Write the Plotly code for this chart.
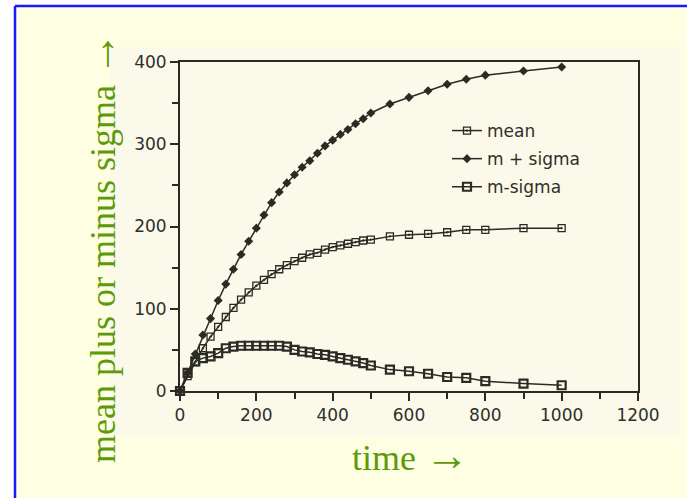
import plotly.graph_objects as go

# ---- data ----
time = [0, 20, 40, 60, 80, 100, 120, 140, 160, 180, 200, 220, 240, 260, 280, 300,
        320, 340, 360, 380, 400, 420, 440, 460, 480, 500, 550, 600, 650, 700, 750,
        800, 900, 1000]
mean = [0, 18, 35, 52, 66, 78, 90, 101, 111, 120, 128, 135, 142, 148, 153, 158,
        162, 166, 168, 172, 175, 177, 179, 181, 183, 184, 188, 190, 191, 193, 196,
        196, 198, 198]
m_plus_sigma = [0, 22, 45, 68, 88, 110, 130, 148, 166, 182, 198, 214, 229, 242, 253, 263,
                272, 280, 289, 298, 305, 312, 318, 325, 331, 338, 349, 357, 365, 373, 379,
                384, 389, 394]
m_minus_sigma = [0, 22, 36, 40, 42, 46, 52, 54, 55, 55, 55, 55, 55, 55, 54, 50,
                 48, 47, 45, 44, 42, 40, 38, 36, 34, 31, 26, 24, 21, 17, 16,
                 12, 9, 7]

x_range = [0, 1200]
y_range = [0, 400]

# ---- layout geometry (pixels) ----
W, H = 687, 498
L, R, T, B = 180, 49, 62, 107
pw, ph = W - L - R, H - T - B


def px(x):
    return (x - L) / pw


def py(y):
    return (H - B - y) / ph


ink = "#2b2b25"
green = "#5c9a0a"
blue = "#1a1aff"

fig = go.Figure()

fig.add_trace(go.Scatter(
    x=time, y=mean, name="mean", mode="lines+markers",
    line=dict(color=ink, width=1.5),
    marker=dict(symbol="square-open-dot", size=7, color=ink, line=dict(width=1.3, color=ink)),
    cliponaxis=False, legendgroup="a"))
fig.add_trace(go.Scatter(
    x=time, y=m_plus_sigma, name="m + sigma", mode="lines+markers",
    line=dict(color=ink, width=1.5),
    marker=dict(symbol="diamond", size=7, color=ink),
    cliponaxis=False, legendgroup="b"))
fig.add_trace(go.Scatter(
    x=time, y=m_minus_sigma, name="m-sigma", mode="lines+markers",
    line=dict(color=ink, width=1.5),
    marker=dict(symbol="square-open", size=8, color=ink, line=dict(width=2.2, color=ink)),
    cliponaxis=False, legendgroup="c"))

shapes = [
    # slide area
    dict(type="rect", xref="paper", yref="paper", layer="below",
         x0=px(15), x1=px(687), y0=py(6), y1=py(498),
         fillcolor="#FEFEE2", line=dict(width=0)),
    # blue frame (top and left edges visible)
    dict(type="line", xref="paper", yref="paper", layer="below",
         x0=px(15), x1=px(687), y0=py(6), y1=py(6),
         line=dict(color=blue, width=2.5)),
    dict(type="line", xref="paper", yref="paper", layer="below",
         x0=px(15), x1=px(15), y0=py(6), y1=py(498),
         line=dict(color=blue, width=2.5)),
    # scanned picture region
    dict(type="rect", xref="paper", yref="paper", layer="below",
         x0=px(110), x1=px(680), y0=py(47), y1=py(435),
         fillcolor="#FBF9EA", line=dict(width=0)),
]

annotations = [
    dict(text="time <span style='font-size:44px'>→</span>", xref="paper", yref="paper",
         x=px(410), y=py(455),
         showarrow=False, font=dict(family="Liberation Serif", size=36, color=green),
         xanchor="center", yanchor="middle"),
    dict(text="mean plus or minus sigma <span style='font-size:44px'>→</span>",
         xref="paper", yref="paper",
         x=px(100), y=py(248), textangle=-90,
         showarrow=False, font=dict(family="Liberation Serif", size=36, color=green),
         xanchor="center", yanchor="middle"),
]

axis_common = dict(
    showline=True, mirror=True, linecolor=ink, linewidth=2,
    showgrid=False, zeroline=False,
    ticks="outside", ticklen=8, tickwidth=2, tickcolor=ink,
    tickfont=dict(family="DejaVu Sans", size=17, color="#2f2f2a"),
)

fig.update_layout(
    width=W, height=H,
    margin=dict(l=L, r=R, t=T, b=B),
    paper_bgcolor="white",
    plot_bgcolor="#FBF9EA",
    showlegend=True,
    legend=dict(x=px(447), y=py(113), xanchor="left", yanchor="top",
                bgcolor="rgba(0,0,0,0)", tracegroupgap=3,
                font=dict(family="DejaVu Sans", size=17, color="#2f2f2a")),
    xaxis=dict(range=x_range, dtick=200,
               minor=dict(dtick=100, ticks="outside", ticklen=6, tickwidth=2, tickcolor=ink),
               **axis_common),
    yaxis=dict(range=y_range, dtick=100,
               minor=dict(dtick=50, ticks="outside", ticklen=6, tickwidth=2, tickcolor=ink),
               **axis_common),
    shapes=shapes,
    annotations=annotations,
)

fig.write_html("out.html")
